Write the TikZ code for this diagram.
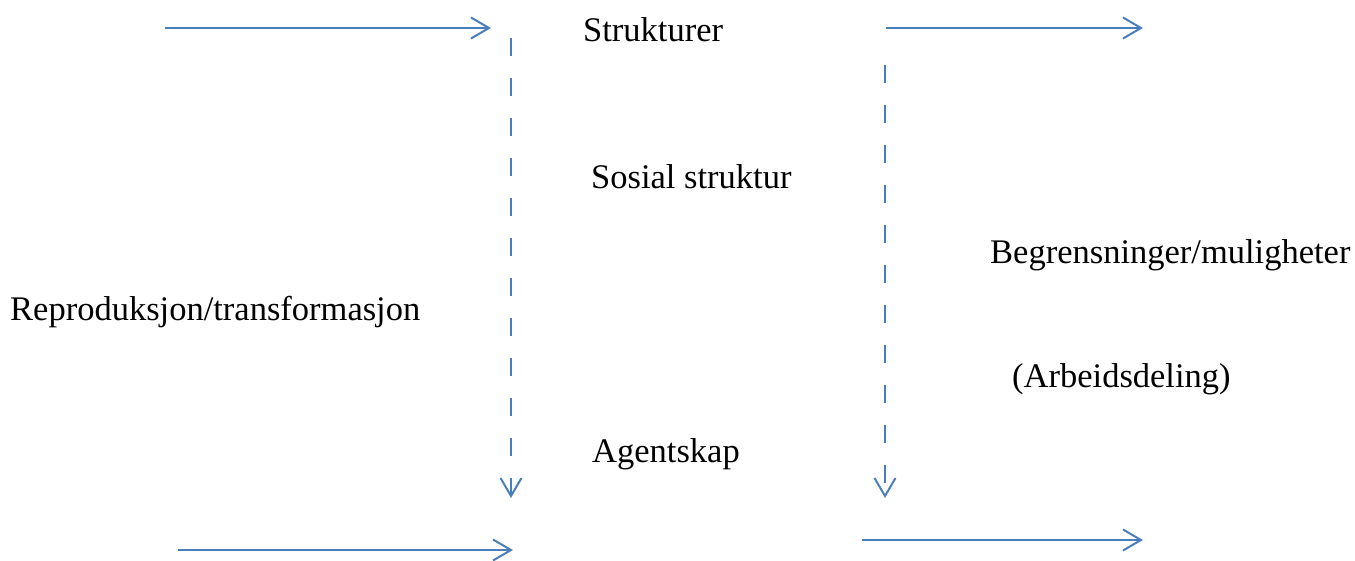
\documentclass[tikz,border=0pt]{standalone}
\usepackage{fontspec}
\setmainfont{Liberation Serif}
\usetikzlibrary{arrows.meta}
\definecolor{arrblue}{RGB}{74,126,187}
\begin{document}
\begin{tikzpicture}[x=1pt,y=-1pt,
  lbl/.style={inner sep=0pt,anchor=base west,font=\fontsize{34.5}{40}\selectfont},
  conn/.style={draw=arrblue,line width=2pt,-{Straight Barb[length=18pt,width=21pt,line width=2pt]}},
  dashconn/.style={conn,dash pattern=on 18pt off 22pt}]
\useasboundingbox (0,0) rectangle (1355,560);
\node[lbl] (strukt) at (583,41) {Strukturer};
\node[lbl] (sosial) at (591,188) {Sosial struktur};
\node[lbl] (agent) at (592,462) {Agentskap};
\node[lbl] (repro) at (10,320) {Reproduksjon/transformasjon};
\node[lbl] (begr) at (990,263) {Begrensninger/muligheter};
\node[lbl] (arb) at (1012,387) {(Arbeidsdeling)};
\coordinate (tlA) at (165,28);
\coordinate (tlB) at (491,28);
\coordinate (trA) at (886,28);
\coordinate (trB) at (1143,28);
\coordinate (blA) at (178,550);
\coordinate (blB) at (513,550);
\coordinate (brA) at (862,540);
\coordinate (brB) at (1143,540);
\coordinate (ldA) at (511,38);
\coordinate (ldB) at (511,498);
\coordinate (rdA) at (885,65);
\coordinate (rdB) at (885,498);
\draw[conn] (tlA) -- (tlB);
\draw[conn] (trA) -- (trB);
\draw[conn] (blA) -- (blB);
\draw[conn] (brA) -- (brB);
\draw[dashconn] (ldA) -- (ldB);
\draw[dashconn] (rdA) -- (rdB);
\end{tikzpicture}
\end{document}
